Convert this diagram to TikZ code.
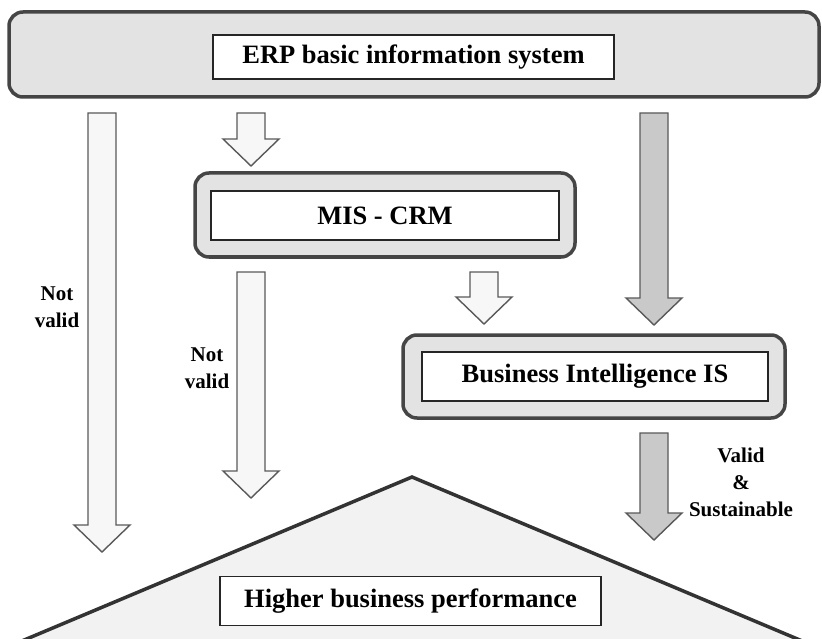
\documentclass[tikz,border=0pt]{standalone}
\usepackage{fontspec}
\setmainfont{Liberation Serif}
\usetikzlibrary{calc}

\definecolor{frame}{gray}{0.27}
\definecolor{panel}{gray}{0.89}
\definecolor{hill}{gray}{0.95}
\definecolor{pale}{gray}{0.97}
\definecolor{dull}{gray}{0.79}

% block arrow from a start point down to its tip
\newcommand{\fatarrow}[3][]{%
  \path[#1] let \p1=(#2), \p2=(#3) in
    (\x1-14pt,\y1) -- (\x1+14pt,\y1) -- (\x1+14pt,\y2+27pt)
    -- (\x1+28pt,\y2+27pt) -- (\x1,\y2) -- (\x1-28pt,\y2+27pt)
    -- (\x1-14pt,\y2+27pt) -- cycle;}

\tikzset{
  outerbox/.style={draw=frame, line width=3.5pt, rounded corners=14pt, fill=panel},
  textbox/.style={draw=black!85, line width=1.8pt, fill=white,
    font=\fontsize{26.5}{30}\selectfont\bfseries, minimum height=49pt},
  note/.style={align=center, font=\fontsize{21}{27}\selectfont\bfseries},
  lightarrow/.style={draw=black!65, line width=1.4pt, fill=pale},
  darkarrow/.style={draw=black!65, line width=1.4pt, fill=dull},
  pyramid/.style={draw=black!80, line width=3.5pt, fill=hill, line join=miter}
}

\begin{document}
\begin{tikzpicture}[x=1pt, y=-1pt]
  \useasboundingbox (0,0) rectangle (822,639);

  % performance triangle at the bottom
  \path[pyramid] (-2,651) -- (412,477) -- (826,651) -- cycle;
  \node[textbox, minimum width=381pt] (perf) at (410.5,601) {Higher business performance};

  % the three systems
  \node[outerbox, minimum width=810pt, minimum height=85pt] (erp) at (414,54.5) {};
  \node[textbox, minimum width=401pt, minimum height=44pt] (erptxt) at (413.5,57) {ERP basic information system};
  \node[outerbox, minimum width=380pt, minimum height=84pt] (mis) at (385,215) {};
  \node[textbox, minimum width=348pt] (mistxt) at (385,215.5) {MIS - CRM};
  \node[outerbox, minimum width=382pt, minimum height=83pt] (bi) at (594,376.5) {};
  \node[textbox, minimum width=346pt] (bitxt) at (595,376.5) {Business Intelligence IS};

  % arrow ends
  \coordinate (erp1) at (102,113);  \coordinate (perf1) at (102,552);
  \coordinate (erp2) at (251,113);  \coordinate (mis1) at (251,166);
  \coordinate (mis2) at (251,272);  \coordinate (perf2) at (251,498);
  \coordinate (mis3) at (484,272);  \coordinate (bi1) at (484,324);
  \coordinate (erp3) at (654,113);  \coordinate (bi2) at (654,325);
  \coordinate (bi3) at (654,433);   \coordinate (perf3) at (654,540);

  \foreach \s/\e/\st in {erp1/perf1/lightarrow, erp2/mis1/lightarrow,
      mis2/perf2/lightarrow, mis3/bi1/lightarrow,
      erp3/bi2/darkarrow, bi3/perf3/darkarrow}
    \fatarrow[\st]{\s}{\e};

  \node[note] (nv1) at (57,307.5) {Not\\valid};
  \node[note] (nv2) at (207,368) {Not\\valid};
  \node[note] (vs) at (741,482) {Valid\\\&\\Sustainable};
\end{tikzpicture}
\end{document}
